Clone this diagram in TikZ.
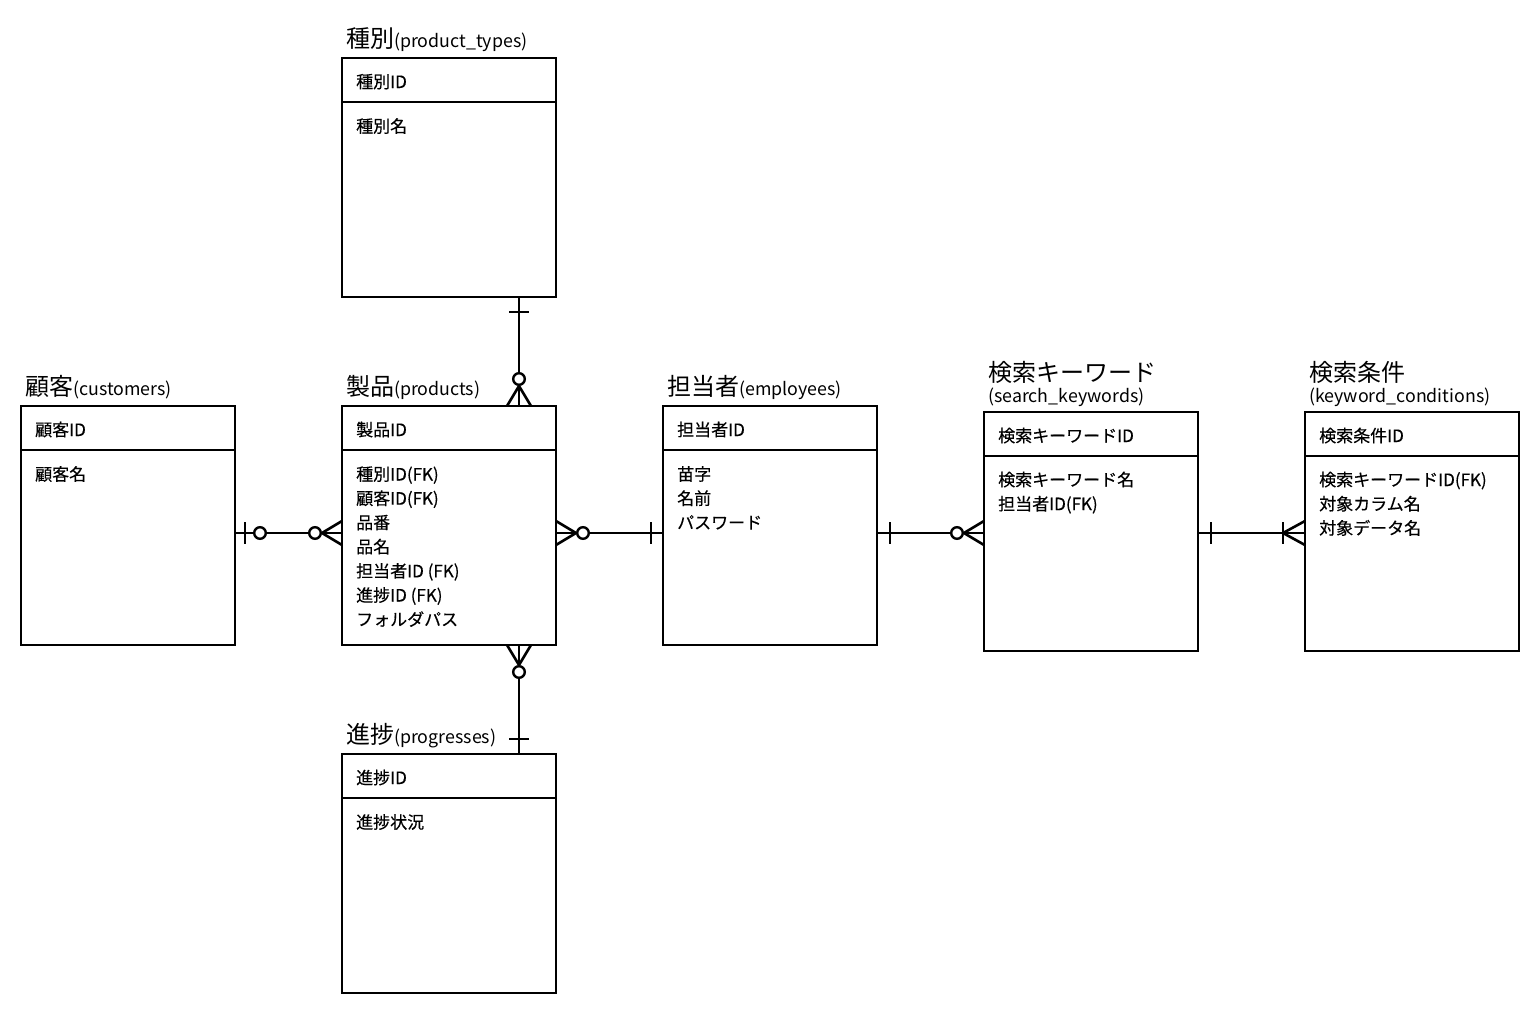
\documentclass[tikz,border=0pt]{standalone}
\usepackage{fontspec}
\setmainfont{Noto Sans CJK JP}
\newfontfamily\rowfont{Noto Sans CJK JP}[FakeBold=0.3]
\usetikzlibrary{calc}
\newcommand{\lat}[1]{{\fontsize{17.8}{20}\selectfont #1}}
\tikzset{
  entity/.style={draw=black, line width=2.8pt, fill=white, inner sep=0pt, outer sep=0pt, minimum width=214pt, minimum height=239pt, anchor=north west},
  divider/.style={line width=2pt},
  rowtxt/.style={anchor=base west, inner sep=0pt, font=\rowfont\fontsize{17}{20}\selectfont},
  ttl/.style={anchor=base west, inner sep=0pt, font=\fontsize{24}{28}\selectfont},
  ttlsub/.style={anchor=base west, inner sep=0pt, font=\fontsize{17.8}{20}\selectfont},
  conn/.style={line width=2.6pt, line cap=butt},
  ring/.style={line width=2.4pt, fill=white}
}
\begin{document}
\begin{tikzpicture}[x=1pt,y=-1pt]
\useasboundingbox[fill=white] (0,0) rectangle (1540,1015);

% entities
\node[entity] (types) at (342,58) {};
\node[entity] (cust) at (21,406) {};
\node[entity] (prod) at (342,406) {};
\node[entity] (emp) at (663,406) {};
\node[entity] (kw) at (984,412) {};
\node[entity] (cond) at (1305,412) {};
\node[entity] (prog) at (342,754) {};

% dividers
\foreach \e in {types,cust,prod,emp,kw,cond,prog}{
  \draw[divider] ($(\e.north west)+(0,43.5)$) -- ($(\e.north east)+(0,43.5)$);
}

% titles
\node[ttl] (types-t) at (346,47) {種別\lat{(product\_types)}};
\node[ttl] (cust-t) at (25,395) {顧客\lat{(customers)}};
\node[ttl] (prod-t) at (346,395) {製品\lat{(products)}};
\node[ttl] (emp-t) at (667,395) {担当者\lat{(employees)}};
\node[ttl] (kw-t) at (988,381) {検索キーワード};
\node[ttlsub] (kw-t2) at (988,402) {(search\_keywords)};
\node[ttl] (cond-t) at (1309,381) {検索条件};
\node[ttlsub] (cond-t2) at (1309,402) {(keyword\_conditions)};
\node[ttl] (prog-t) at (346,743) {進捗\lat{(progresses)}};

% headers
\node[rowtxt] (types-h) at (356,88) {種別ID};
\node[rowtxt] (cust-h) at (35,436) {顧客ID};
\node[rowtxt] (prod-h) at (356,436) {製品ID};
\node[rowtxt] (emp-h) at (677,436) {担当者ID};
\node[rowtxt] (kw-h) at (998,442) {検索キーワードID};
\node[rowtxt] (cond-h) at (1319,442) {検索条件ID};
\node[rowtxt] (prog-h) at (356,784) {進捗ID};

% body rows
\node[rowtxt] (types-1) at (356,132.5) {種別名};
\node[rowtxt] (cust-1) at (35,480.5) {顧客名};
\foreach \t [count=\i] in {種別ID(FK),顧客ID(FK),品番,品名,担当者ID (FK),進捗ID (FK),フォルダパス}{
  \node[rowtxt] (prod-\i) at (356,{480.5+24.2*(\i-1)}) {\t};
}
\foreach \t [count=\i] in {苗字,名前,パスワード}{
  \node[rowtxt] (emp-\i) at (677,{480.5+24.2*(\i-1)}) {\t};
}
\foreach \t [count=\i] in {検索キーワード名,担当者ID(FK)}{
  \node[rowtxt] (kw-\i) at (998,{486+24.2*(\i-1)}) {\t};
}
\foreach \t [count=\i] in {検索キーワードID(FK),対象カラム名,対象データ名}{
  \node[rowtxt] (cond-\i) at (1319,{486+24.2*(\i-1)}) {\t};
}
\node[rowtxt] (prog-1) at (356,828.5) {進捗状況};

% connector reference coordinates
\coordinate (r) at (0,533);
\coordinate (vx) at (519,0);
\coordinate (cE) at (cust.east|-r);
\coordinate (pW) at (prod.west|-r);
\coordinate (pE) at (prod.east|-r);
\coordinate (eW) at (emp.west|-r);
\coordinate (eE) at (emp.east|-r);
\coordinate (kW) at (kw.west|-r);
\coordinate (kE) at (kw.east|-r);
\coordinate (qW) at (cond.west|-r);
\coordinate (tS) at (types.south-|vx);
\coordinate (pN) at (prod.north-|vx);
\coordinate (pS) at (prod.south-|vx);
\coordinate (gN) at (prog.north-|vx);

% customers -- products
\draw[conn] (cE) -- (pW);
\draw[conn] ($(cE)+(10,-11)$) -- ($(cE)+(10,11)$);
\draw[conn] ($(pW)+(-20,0)$) -- ($(pW)+(0,-12)$);
\draw[conn] ($(pW)+(-20,0)$) -- ($(pW)+(0,12)$);
\draw[ring] ($(cE)+(25,0)$) circle[radius=5.8pt];
\draw[ring] ($(pW)+(-27,0)$) circle[radius=5.8pt];

% products -- employees
\draw[conn] (pE) -- (eW);
\draw[conn] ($(pE)+(20,0)$) -- ($(pE)+(0,-12)$);
\draw[conn] ($(pE)+(20,0)$) -- ($(pE)+(0,12)$);
\draw[ring] ($(pE)+(27,0)$) circle[radius=5.8pt];
\draw[conn] ($(eW)+(-12,-11)$) -- ($(eW)+(-12,11)$);

% employees -- search keywords
\draw[conn] (eE) -- (kW);
\draw[conn] ($(eE)+(13,-11)$) -- ($(eE)+(13,11)$);
\draw[conn] ($(kW)+(-20,0)$) -- ($(kW)+(0,-12)$);
\draw[conn] ($(kW)+(-20,0)$) -- ($(kW)+(0,12)$);
\draw[ring] ($(kW)+(-27,0)$) circle[radius=5.8pt];

% search keywords -- keyword conditions
\draw[conn] (kE) -- (qW);
\draw[conn] ($(kE)+(13,-11)$) -- ($(kE)+(13,11)$);
\draw[conn] ($(qW)+(-22,-11)$) -- ($(qW)+(-22,11)$);
\draw[conn] ($(qW)+(-22,0)$) -- ($(qW)+(0,-12)$);
\draw[conn] ($(qW)+(-22,0)$) -- ($(qW)+(0,12)$);

% product types -- products
\draw[conn] (tS) -- (pN);
\draw[conn] ($(tS)+(-10,15)$) -- ($(tS)+(10,15)$);
\draw[conn] ($(pN)+(0,-20)$) -- ($(pN)+(-12,0)$);
\draw[conn] ($(pN)+(0,-20)$) -- ($(pN)+(12,0)$);
\draw[ring] ($(pN)+(0,-27)$) circle[radius=5.8pt];

% products -- progresses
\draw[conn] (pS) -- (gN);
\draw[conn] ($(pS)+(0,20)$) -- ($(pS)+(-12,0)$);
\draw[conn] ($(pS)+(0,20)$) -- ($(pS)+(12,0)$);
\draw[ring] ($(pS)+(0,27)$) circle[radius=5.8pt];
\draw[conn] ($(gN)+(-10,-15)$) -- ($(gN)+(10,-15)$);
\end{tikzpicture}
\end{document}
